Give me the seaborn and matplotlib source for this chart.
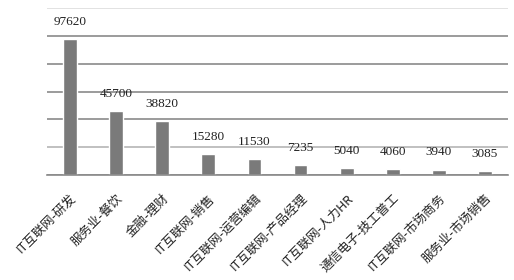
import matplotlib
matplotlib.use("Agg")
import matplotlib.pyplot as plt
import seaborn as sns
import pandas as pd

categories = ["IT互联网-研发", "服务业-餐饮", "金融-理财", "IT互联网-销售", "IT互联网-运营编辑",
              "IT互联网-产品经理", "IT互联网-人力HR", "通信电子-技工普工", "IT互联网-市场商务", "服务业-市场销售"]
values = [97620, 45700, 38820, 15280, 11530, 7235, 5040, 4060, 3940, 3085]

sns.set_theme(style="white")
plt.rcParams['font.family'] = ['Noto Sans CJK SC', 'DejaVu Sans']

df = pd.DataFrame({"cat": categories, "val": values})
fig = plt.figure(figsize=(5.14, 2.8), dpi=100)
ax = fig.add_axes([47/514, 1 - 175/280, (508-47)/514, (175-8)/280])
sns.barplot(data=df, x="cat", y="val", color="#7a7a7a", saturation=1, width=0.3, ax=ax)
ax.set_ylim(0, 120000)
ax.set_xlim(-0.5, len(categories) - 0.5)
ax.set_yticks(range(0, 120001, 20000))
ax.yaxis.grid(True, color="#8a8a8a", linewidth=1.2)
gl = ax.yaxis.get_gridlines()
gl[-1].set_color("#dddddd")
gl[1].set_color("#b5b5b5")
ax.set_axisbelow(True)
ax.tick_params(axis="y", left=False, labelleft=False)
ax.tick_params(axis="x", bottom=False, pad=6)
for s in ["top", "right", "left"]:
    ax.spines[s].set_visible(False)
ax.spines["bottom"].set_color("#8a8a8a")
ax.spines["bottom"].set_linewidth(1.2)
ax.set_xlabel("")
ax.set_ylabel("")
ax.set_xticks(range(len(categories)))
ax.set_xticklabels(categories, rotation=45, ha="right", rotation_mode="anchor", fontsize=9, color="#222222")
for i, v in enumerate(values):
    ax.annotate(str(v), (i, v), xytext=(0, 8), textcoords="offset points", ha="center", va="bottom",
                fontsize=9.5, family="Liberation Serif", color="#222222")
fig.savefig("out.png", dpi=100)
